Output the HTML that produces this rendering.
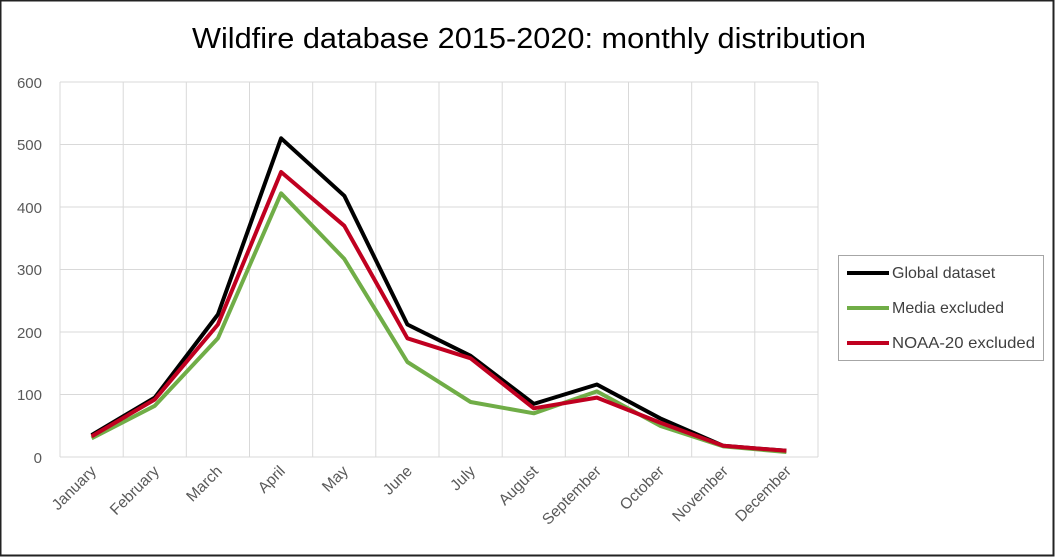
<!DOCTYPE html><html><head><style>body{margin:0;background:#fff}svg{display:block}</style></head><body>
<svg width="1056" height="557" xmlns="http://www.w3.org/2000/svg" font-family="Liberation Sans, sans-serif">
<rect x="0.5" y="0.5" width="1053" height="555" fill="#fff" stroke="#222" stroke-width="2"/>
<text x="192" y="48" textLength="674" lengthAdjust="spacingAndGlyphs" font-size="29" fill="#000">Wildfire database 2015-2020: monthly distribution</text>
<g stroke="#d9d9d9" stroke-width="1">
<line x1="60" y1="82" x2="818" y2="82"/><line x1="60" y1="144.5" x2="818" y2="144.5"/><line x1="60" y1="207" x2="818" y2="207"/><line x1="60" y1="269.5" x2="818" y2="269.5"/><line x1="60" y1="332" x2="818" y2="332"/><line x1="60" y1="394.5" x2="818" y2="394.5"/><line x1="60" y1="457" x2="818" y2="457"/>
<line x1="60" y1="82" x2="60" y2="457"/><line x1="123.2" y1="82" x2="123.2" y2="457"/><line x1="186.3" y1="82" x2="186.3" y2="457"/><line x1="249.5" y1="82" x2="249.5" y2="457"/><line x1="312.7" y1="82" x2="312.7" y2="457"/><line x1="375.8" y1="82" x2="375.8" y2="457"/><line x1="439" y1="82" x2="439" y2="457"/><line x1="502.2" y1="82" x2="502.2" y2="457"/><line x1="565.3" y1="82" x2="565.3" y2="457"/><line x1="628.5" y1="82" x2="628.5" y2="457"/><line x1="691.7" y1="82" x2="691.7" y2="457"/><line x1="754.8" y1="82" x2="754.8" y2="457"/><line x1="818" y1="82" x2="818" y2="457"/>
</g>
<g font-size="15" fill="#595959" text-anchor="end">
<text x="42" y="88">600</text><text x="42" y="150">500</text><text x="42" y="213">400</text><text x="42" y="275">300</text><text x="42" y="338">200</text><text x="42" y="400">100</text><text x="42" y="463">0</text>
</g>
<g font-size="15.5" fill="#595959" text-anchor="end">
<text transform="translate(97,472) rotate(-45)">January</text>
<text transform="translate(160,472) rotate(-45)">February</text>
<text transform="translate(223,472) rotate(-45)">March</text>
<text transform="translate(286,472) rotate(-45)">April</text>
<text transform="translate(349,472) rotate(-45)">May</text>
<text transform="translate(413,472) rotate(-45)">June</text>
<text transform="translate(476,472) rotate(-45)">July</text>
<text transform="translate(539,472) rotate(-45)">August</text>
<text transform="translate(602,472) rotate(-45)">September</text>
<text transform="translate(665,472) rotate(-45)">October</text>
<text transform="translate(729,472) rotate(-45)">November</text>
<text transform="translate(792,472) rotate(-45)">December</text>
</g>
<g fill="none" stroke-width="4" stroke-linejoin="round">
<polyline stroke="#000" points="91.6,435.1 154.8,397.6 217.9,314.5 281.1,138.3 344.3,195.8 407.4,324.5 470.6,355.8 533.8,403.9 596.9,384.5 660.1,418.3 723.3,445.8 786.4,450.8"/>
<polyline stroke="#70ad47" points="91.6,438.3 154.8,405.8 217.9,338.3 281.1,193.3 344.3,258.9 407.4,362 470.6,402 533.8,413.3 596.9,391.4 660.1,425.8 723.3,446.4 786.4,452"/>
<polyline stroke="#c00020" points="91.6,436.4 154.8,399.5 217.9,324.5 281.1,172 344.3,225.8 407.4,338.3 470.6,358.3 533.8,408.3 596.9,397.6 660.1,422.6 723.3,445.8 786.4,450.8"/>
</g>
<rect x="838.5" y="255.5" width="205" height="105" fill="#fff" stroke="#a6a6a6"/>
<g stroke-width="4"><line x1="847" y1="273" x2="889" y2="273" stroke="#000"/><line x1="847" y1="308" x2="889" y2="308" stroke="#70ad47"/><line x1="847" y1="343" x2="889" y2="343" stroke="#c00020"/></g>
<g font-size="16" fill="#404040"><text x="892" y="278">Global dataset</text><text x="892" y="313">Media excluded</text><text x="892" y="348" textLength="143" lengthAdjust="spacingAndGlyphs">NOAA-20 excluded</text></g>
</svg></body></html>
